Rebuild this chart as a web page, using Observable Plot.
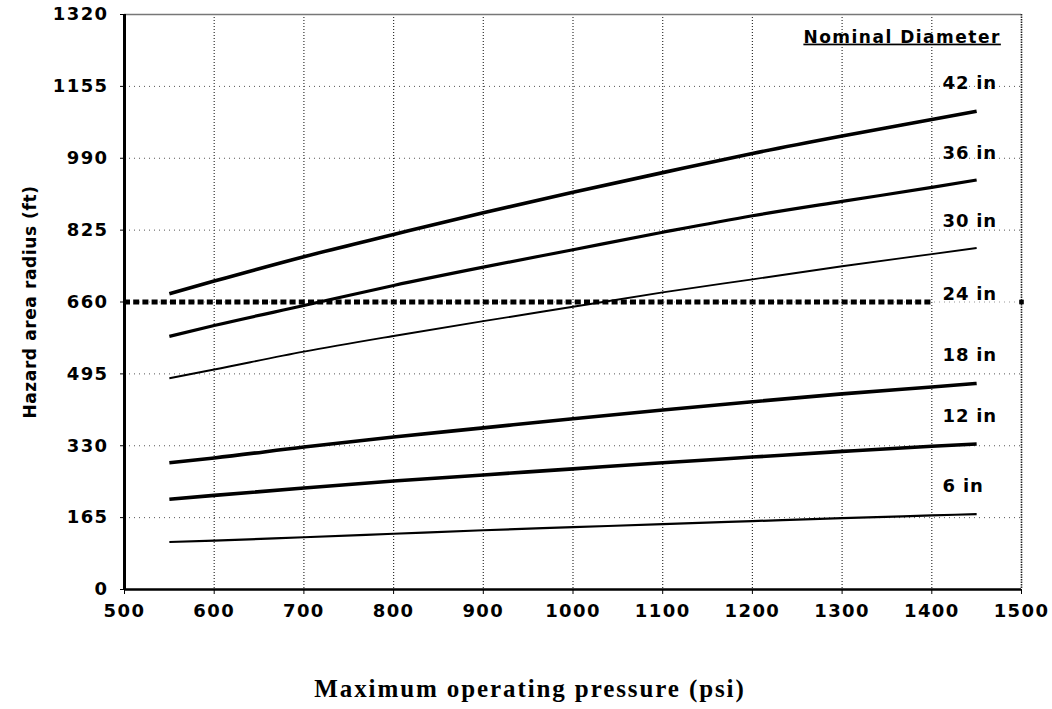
<!DOCTYPE html>
<html>
<head>
<meta charset="utf-8">
<script src="https://cdn.jsdelivr.net/npm/d3@7"></script>
<script src="https://cdn.jsdelivr.net/npm/@observablehq/plot@0.6"></script>
<style>
  html, body { margin: 0; padding: 0; background: #fff; }
  #chart { width: 1052px; height: 709px; }
</style>
</head>
<body>
<div id="chart"></div>
<script>
// ---- data ----
const pressure = [550, 600, 700, 800, 900, 1000, 1100, 1200, 1300, 1400, 1450];
const radius42 = [679, 708, 764, 815, 865, 912, 957, 1001, 1041, 1079, 1098];
const radius36 = [581, 606, 652, 698, 740, 780, 820, 858, 891, 923, 940];
const radius30 = [485, 505, 546, 582, 616, 649, 682, 712, 742, 770, 784];
const radius18 = [291, 302, 327, 350, 371, 392, 412, 431, 449, 465, 473];
const radius12 = [207, 216, 233, 249, 263, 277, 291, 304, 317, 329, 334];
const radius6  = [109, 112, 120, 128, 136, 143, 150, 157, 164, 170, 173];

const seriesNames = ["42 in", "36 in", "30 in", "18 in", "12 in", "6 in"];
const seriesValues = [radius42, radius36, radius30, radius18, radius12, radius6];

const xTicks = [500, 600, 700, 800, 900, 1000, 1100, 1200, 1300, 1400, 1500];
const yTicks = [0, 165, 330, 495, 660, 825, 990, 1155, 1320];

const thresholdRadius = 660;
const thresholdEnd = 1400;

const labelNames  = ["42 in", "36 in", "30 in", "24 in", "18 in", "12 in", "6 in"];
const labelRadius = [1162, 1002, 845, 677, 537, 397, 238];
const labelPressure = 1412;
const legendTitle = "Nominal Diameter";
const legendPressure = 1477;
const legendRadius = 1268;

const xTitle = "Maximum operating pressure (psi)";
const yTitle = "Hazard area radius (ft)";

// ---- build table ----
const rows = [];
seriesNames.forEach((name, i) => {
  pressure.forEach((p, j) => rows.push({ series: name, pressure: p, radius: seriesValues[i][j] }));
});
const widthOf = { "42 in": 3.6, "36 in": 3.2, "30 in": 1.9, "18 in": 3.6, "12 in": 3.6, "6 in": 2.2 };

const gridX = xTicks.slice(1, -1);
const gridY = yTicks.filter(v => v !== 0 && v !== 1320 && v !== thresholdRadius);

const plot = Plot.plot({
  width: 1052,
  height: 709,
  marginTop: 14,
  marginBottom: 120,
  marginLeft: 124,
  marginRight: 31,
  style: { fontFamily: "DejaVu Sans", fontSize: "18px", fontWeight: "bold", letterSpacing: "1.4px", color: "#000", background: "#fff" },
  x: { domain: [500, 1500] },
  y: { domain: [0, 1320] },
  marks: [
    Plot.ruleX(gridX, { stroke: "#333", strokeWidth: 1.2, strokeDasharray: "1,2" }),
    Plot.ruleY(gridY, { stroke: "#555", strokeWidth: 1, strokeDasharray: "1,4" }),
    Plot.ruleY([thresholdRadius], { stroke: "#999", strokeWidth: 1, strokeDasharray: "1,4" }),
    Plot.ruleY([1320], { stroke: "#777", strokeWidth: 1.5 }),
    Plot.ruleX([1500], { stroke: "#222", strokeWidth: 1.6, strokeDasharray: "1.5,1" }),
    ...seriesNames.map(name => Plot.line(rows.filter(d => d.series === name), {
      x: "pressure", y: "radius", stroke: "#000", strokeWidth: widthOf[name], strokeLinecap: "butt", curve: "monotone-x"
    })),
    Plot.ruleY([thresholdRadius], { x1: 500, x2: thresholdEnd, stroke: "#000", strokeWidth: 5, strokeDasharray: "6,3.2" }),
    Plot.dot([thresholdRadius], { x: () => 1500, y: d => d, symbol: "square", r: 2.6, fill: "#000", stroke: null }),
    Plot.ruleX([500], { stroke: "#000", strokeWidth: 3 }),
    Plot.ruleY([0], { stroke: "#000", strokeWidth: 2.6 }),
    Plot.axisX({ ticks: xTicks, tickSize: 5, tickPadding: 10, tickFormat: d => String(d), label: null, stroke: "#000" }),
    Plot.axisY({ ticks: yTicks, tickSize: 4, tickPadding: 12, tickFormat: d => String(d), label: null, stroke: "#000" }),
    Plot.text(labelNames, { x: () => labelPressure, y: (d, i) => labelRadius[i], text: d => d, textAnchor: "start", fill: "#000" }),
    Plot.text([legendTitle], { x: () => legendPressure, y: () => legendRadius, text: d => d, textAnchor: "end", fontSize: 17, fill: "#000" }),
    Plot.text([yTitle], { frameAnchor: "left", textAnchor: "middle", lineAnchor: "middle", dx: -94, rotate: -90, text: d => d, fontSize: 17, fill: "#000" }),
    Plot.text([xTitle], { frameAnchor: "bottom", textAnchor: "middle", lineAnchor: "middle", dx: -43, dy: 99, text: d => d, fontFamily: "Liberation Serif", fontSize: 25, fontWeight: "bold", fill: "#000" })
  ]
});

document.getElementById("chart").appendChild(plot);

const svg = d3.select(plot);
svg.selectAll("text").each(function () {
  const t = this.textContent;
  if (labelNames.includes(t)) d3.select(this).style("letter-spacing", "0.8px");
  if (t === legendTitle) d3.select(this).style("text-decoration", "underline").style("letter-spacing", "1.5px");
  if (t === xTitle) d3.select(this).style("letter-spacing", "1.9px");
  if (t === yTitle) d3.select(this).style("letter-spacing", "0.6px");
});
</script>
</body>
</html>
